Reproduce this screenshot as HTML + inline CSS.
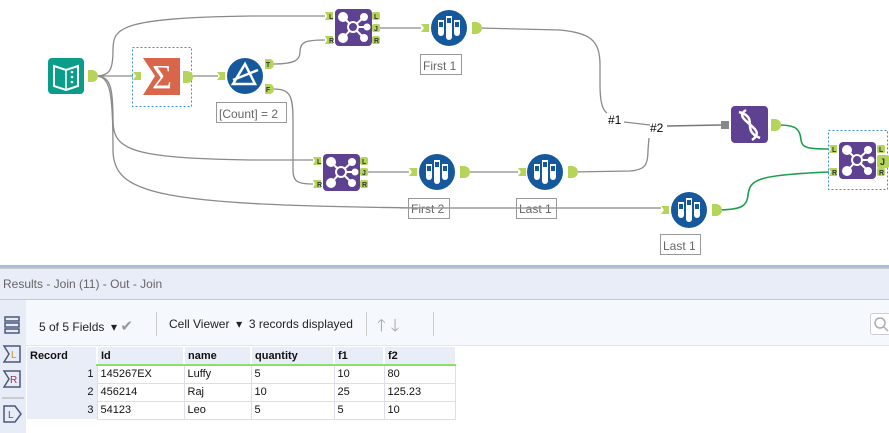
<!DOCTYPE html>
<html><head><meta charset="utf-8"><style>
body{margin:0;width:889px;height:433px;overflow:hidden;background:#fff;font-family:"Liberation Sans",sans-serif;position:relative}
.abs{position:absolute}
table td{box-sizing:border-box;overflow:hidden;white-space:nowrap}
</style></head><body>
<svg class="abs" style="left:0;top:0" width="889" height="265" viewBox="0 0 889 265">
<defs>
<g id="inA"><path d="M0,0 H8 V8 H0 L3,4 Z" fill="#b5d55a"/></g>
<g id="outA"><path d="M0,0 H4 A4,4 0 0 1 4,12 H0 Z" fill="#b5d55a"/></g>
<g id="samp">
<circle cx="0" cy="0" r="18" fill="#15589b"/>
<path d="M-11,-8 H-5 V5 A3,3 0 0 1 -11,5 Z" fill="#fff"/>
<path d="M-3,-12 H3 V9 A3,3 0 0 1 -3,9 Z" fill="#fff"/>
<path d="M5,-8 H11 V5 A3,3 0 0 1 5,5 Z" fill="#fff"/>
<rect x="-10" y="-6" width="4" height="5" fill="#15589b"/>
<rect x="-2" y="-10" width="4" height="5" fill="#15589b"/>
<rect x="6" y="-6" width="4" height="5" fill="#15589b"/>
</g>
<g id="join">
<rect x="0" y="0" width="37" height="37" rx="4" fill="#5f4191"/>
<g stroke="#fff" stroke-width="2"><line x1="9" y1="9" x2="18" y2="18"/><line x1="28" y1="9" x2="18" y2="18"/><line x1="9" y1="28" x2="18" y2="18"/><line x1="28" y1="28" x2="18" y2="18"/><line x1="31" y1="18" x2="18" y2="18"/></g>
<circle cx="8" cy="8" r="5" fill="#fff"/><circle cx="29" cy="8" r="4" fill="#fff"/><circle cx="8" cy="29" r="5" fill="#fff"/><circle cx="29" cy="29" r="4" fill="#fff"/><circle cx="32" cy="18" r="3.5" fill="#fff"/>
<circle cx="18" cy="18" r="5" fill="#5f4191" stroke="#fff" stroke-width="2"/>
</g>
</defs>
<g fill="none" stroke="#8a8a8a" stroke-width="1.3">
<path d="M95,76 H133"/>
<path d="M95,76 C110,76 113,70 113,50 C113,28 118,18 250,16 H325"/>
<path d="M95,76 C110,76 113,85 113,120 C113,150 130,158 250,160 H313"/>
<path d="M95,76 C110,76 113,90 113,150 C113,195 160,205 420,208 H661"/>
<path d="M190,76 H218"/>
<path d="M273,64 C295,64 300,60 300,52 C300,42 305,40 325,40"/>
<path d="M273,89 C290,89 293,95 293,120 V170 C293,182 298,184 313,184"/>
<path d="M380,28 H421"/>
<path d="M479,28 L560,30 C590,33 600,40 600,65 L600,85 C600,100 602,110 607,113"/>
<path d="M624,122 L650,125"/>
<path d="M667,126 L721,125" stroke="#777" stroke-width="1.6"/>
<path d="M368,172 H409"/>
<path d="M465,172 H518"/>
<path d="M571,172 L630,171 C645,170 648,165 648,150 L649,138"/>
</g>
<g fill="none" stroke="#1e9e4a" stroke-width="1.6">
<path d="M778,125 C795,125 800,128 801,140 C802,148 808,149 829,149"/>
<path d="M715,210 C740,210 747,207 748,195 C750,180 755,175 829,172"/>
</g>
<rect x="48" y="58" width="36" height="36" rx="4" fill="#0a9e8a"/>
<path d="M54,66 L66,70 L78,66 V86 L66,90 L54,86 Z" fill="none" stroke="#fff" stroke-width="2"/>
<line x1="66" y1="70" x2="66" y2="90" stroke="#fff" stroke-width="1.5"/>
<circle cx="72" cy="72" r="1.3" fill="#fff"/><circle cx="72" cy="77" r="1.3" fill="#fff"/><circle cx="72" cy="82" r="1.3" fill="#fff"/>
<use href="#outA" x="88" y="70"/>
<rect x="132.5" y="47.5" width="59" height="59" fill="none" stroke="#3b8fe0" stroke-dasharray="2,2"/>
<path d="M143,58 H180 V95 H143 L155,76 Z" fill="#d9654a"/>
<text x="162" y="88" font-size="34" fill="#fff" text-anchor="middle" font-family="Liberation Serif">Σ</text>
<use href="#inA" x="133" y="72"/>
<use href="#outA" x="183" y="71"/>
<circle cx="245" cy="76" r="18" fill="#15589b"/>
<path d="M233,84 L245,64 L255,84 Z M233,80 L258,70" fill="none" stroke="#fff" stroke-width="2.5"/>
<use href="#inA" x="217" y="72"/>
<path d="M265,59 H270 A4,5 0 0 1 270,69 H265 Z" fill="#b5d55a"/><text x="268" y="67" font-size="7" font-weight="bold" fill="#333" text-anchor="middle">T</text>
<path d="M265,84 H270 A4,5 0 0 1 270,94 H265 Z" fill="#b5d55a"/><text x="268" y="92" font-size="7" font-weight="bold" fill="#333" text-anchor="middle">F</text>
<rect x="216.5" y="102.5" width="70" height="20" fill="#fff" stroke="#999"/>
<text x="219" y="118" font-size="12" fill="#666">[Count] = 2</text>
<g font-size="7" font-weight="bold" fill="#333">
<use href="#join" x="335" y="9"/>
<path d="M325,12 H333 V20 H325 L327,16Z" fill="#b5d55a"/><text x="329" y="19">L</text>
<path d="M325,36 H333 V44 H325 L327,40Z" fill="#b5d55a"/><text x="329" y="43">R</text>
<rect x="372" y="12" width="8" height="8" rx="2" fill="#b5d55a"/><text x="374" y="19">L</text>
<rect x="372" y="24" width="8" height="8" rx="2" fill="#b5d55a"/><text x="374" y="31">J</text>
<rect x="372" y="36" width="8" height="8" rx="2" fill="#b5d55a"/><text x="374" y="43">R</text>
<use href="#join" x="323" y="154"/>
<path d="M313,157 H321 V165 H313 L315,161Z" fill="#b5d55a"/><text x="317" y="164">L</text>
<path d="M313,180 H321 V188 H313 L315,184Z" fill="#b5d55a"/><text x="317" y="187">R</text>
<rect x="360" y="157" width="8" height="8" rx="2" fill="#b5d55a"/><text x="362" y="164">L</text>
<rect x="360" y="168" width="8" height="8" rx="2" fill="#b5d55a"/><text x="362" y="175">J</text>
<rect x="360" y="180" width="8" height="8" rx="2" fill="#b5d55a"/><text x="362" y="187">R</text>
<rect x="828.5" y="130.5" width="59" height="59" fill="none" stroke="#3b8fe0" stroke-dasharray="2,2"/>
<use href="#join" x="839" y="142"/>
<path d="M829,145 H837 V153 H829 L831,149Z" fill="#b5d55a"/><text x="832" y="152">L</text>
<path d="M829,168 H837 V176 H829 L831,172Z" fill="#b5d55a"/><text x="832" y="175">R</text>
<rect x="877" y="145" width="8" height="8" rx="2" fill="#b5d55a"/><text x="879" y="152">L</text>
<rect x="877" y="155" width="12" height="13" rx="2" fill="#b5d55a"/><text x="880" y="165" font-size="9">J</text>
<rect x="877" y="168" width="8" height="8" rx="2" fill="#b5d55a"/><text x="879" y="175">R</text>
</g>
<use href="#samp" x="449" y="28"/><use href="#inA" x="421" y="24"/><use href="#outA" x="472" y="22"/>
<rect x="420.5" y="54.5" width="41" height="20" fill="#fff" stroke="#999"/><text x="423" y="70" font-size="12" fill="#666">First 1</text>
<use href="#samp" x="437" y="172"/><use href="#inA" x="409" y="168"/><use href="#outA" x="460" y="166"/>
<use href="#samp" x="545" y="172"/><use href="#inA" x="518" y="168"/><use href="#outA" x="568" y="166"/>
<use href="#samp" x="689" y="210"/><use href="#inA" x="661" y="206"/><use href="#outA" x="712" y="204"/>
<rect x="408.5" y="198.5" width="41" height="20" fill="none" stroke="#999"/><text x="411" y="213" font-size="12" fill="#666">First 2</text>
<rect x="516.5" y="198.5" width="40" height="20" fill="none" stroke="#999"/><text x="519" y="213" font-size="12" fill="#666">Last 1</text>
<line x1="400" y1="208" x2="661" y2="208" stroke="#999" stroke-width="1.3"/>
<rect x="660.5" y="234.5" width="40" height="20" fill="#fff" stroke="#999"/><text x="663" y="250" font-size="12" fill="#666">Last 1</text>
<rect x="731" y="106" width="37" height="37" rx="4" fill="#5f4191"/>
<path d="M739,112 C760,118 740,130 760,138 M746,110 C730,120 770,128 752,140" fill="none" stroke="#fff" stroke-width="2.5"/>
<rect x="721" y="121" width="8" height="8" fill="#888"/>
<use href="#outA" x="771" y="119"/>
<text x="608" y="124" font-size="12" fill="#000">#1</text>
<text x="650" y="132" font-size="12" fill="#000">#2</text>
</svg>
<div class="abs" style="left:0;top:265px;width:889px;height:3px;background:#aabfe0"></div>
<div class="abs" style="left:0;top:268px;width:889px;height:32px;background:#e9edf8;border-top:1px solid #ccc;border-bottom:1px solid #c8c8c8;box-sizing:border-box"></div>
<div class="abs" style="left:3px;top:277px;font-size:12px;color:#666">Results - Join (11) - Out - Join</div>
<div class="abs" style="left:0;top:300px;width:26px;height:133px;background:#e8ecf6"></div>
<svg class="abs" style="left:0;top:300px" width="26" height="133">
<g fill="none" stroke="#4a5a7a" stroke-width="1.5">
<rect x="5" y="17" width="14" height="4"/><rect x="5" y="23" width="14" height="4"/><rect x="5" y="29" width="14" height="4"/>
<path d="M4,46 H20 V62 H4 L9,54 Z"/><path d="M4,71 H20 V87 H4 L9,79 Z"/>
<path d="M4,106 H15 L21,114 L15,122 H4 Z"/>
</g>
<g font-size="10" fill="#c8902a"><text x="11" y="58">L</text></g>
<g font-size="10" fill="#8a3a5a"><text x="10" y="83">R</text></g>
<g font-size="10" fill="#555"><text x="8" y="118">L</text></g>
<line x1="2" y1="98" x2="24" y2="98" stroke="#aaa"/>
</svg>
<div class="abs" style="left:26px;top:300px;width:863px;height:45px;background:#f5f8fd;border-bottom:1px solid #e6e6e6"></div>
<div class="abs" style="left:39px;top:317px;font-size:12px;color:#222;white-space:nowrap">5 of 5 Fields &nbsp;▾ <span style="color:#999;font-size:15px">✔</span></div>
<div class="abs" style="left:156px;top:312px;width:1px;height:24px;background:#ccc"></div>
<div class="abs" style="left:169px;top:317px;font-size:12px;color:#222;white-space:nowrap">Cell Viewer &nbsp;▾ &nbsp;3 records displayed</div>
<div class="abs" style="left:366px;top:312px;width:1px;height:24px;background:#ccc"></div>
<div class="abs" style="left:377px;top:313px;font-size:17px;color:#aaa">🡑 🡓</div>
<div class="abs" style="left:433px;top:312px;width:1px;height:24px;background:#ccc"></div>
<div class="abs" style="left:870px;top:313px;width:22px;height:22px;border:1px solid #ccd;border-radius:3px;box-sizing:border-box;background:#fff"></div>
<svg class="abs" style="left:874px;top:317px" width="15" height="15"><circle cx="6" cy="6" r="5" fill="none" stroke="#aab" stroke-width="1.5"/><line x1="10" y1="10" x2="14" y2="14" stroke="#aab" stroke-width="1.5"/></svg>
<table class="abs" style="left:27px;top:347px;border-collapse:collapse;font-size:11px;color:#111;table-layout:fixed;width:428px">
<colgroup><col style="width:70px"><col style="width:87px"><col style="width:67px"><col style="width:83px"><col style="width:50px"><col style="width:71px"></colgroup>
<tr style="height:18px;background:#e9edf8;font-weight:bold"><td style="padding:0 3px">Record</td><td style="padding:0 3px;border-left:2px solid #fff;border-bottom:2px solid #8ae06a">Id</td><td style="padding:0 3px;border-left:2px solid #fff;border-bottom:2px solid #8ae06a">name</td><td style="padding:0 3px;border-left:2px solid #fff;border-bottom:2px solid #8ae06a">quantity</td><td style="padding:0 3px;border-left:2px solid #fff;border-bottom:2px solid #8ae06a">f1</td><td style="padding:0 3px;border-left:2px solid #fff;border-bottom:2px solid #8ae06a">f2</td></tr>
<tr style="height:18px"><td style="background:#e9edf8;text-align:right;padding:0 3px">1</td><td style="border:1px solid #dde;padding:0 3px">145267EX</td><td style="border:1px solid #dde;padding:0 3px">Luffy</td><td style="border:1px solid #dde;padding:0 3px">5</td><td style="border:1px solid #dde;padding:0 3px">10</td><td style="border:1px solid #dde;padding:0 3px">80</td></tr>
<tr style="height:18px"><td style="background:#e9edf8;text-align:right;padding:0 3px">2</td><td style="border:1px solid #dde;padding:0 3px">456214</td><td style="border:1px solid #dde;padding:0 3px">Raj</td><td style="border:1px solid #dde;padding:0 3px">10</td><td style="border:1px solid #dde;padding:0 3px">25</td><td style="border:1px solid #dde;padding:0 3px">125.23</td></tr>
<tr style="height:18px"><td style="background:#e9edf8;text-align:right;padding:0 3px">3</td><td style="border:1px solid #dde;padding:0 3px">54123</td><td style="border:1px solid #dde;padding:0 3px">Leo</td><td style="border:1px solid #dde;padding:0 3px">5</td><td style="border:1px solid #dde;padding:0 3px">5</td><td style="border:1px solid #dde;padding:0 3px">10</td></tr>
</table>
</body></html>
